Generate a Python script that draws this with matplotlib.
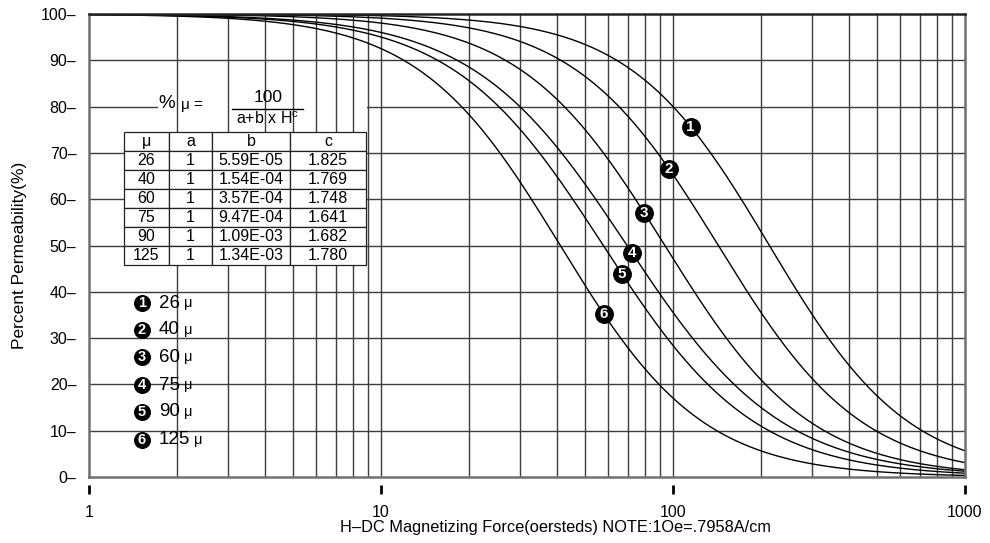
import numpy as np
import matplotlib
matplotlib.use("Agg")
import matplotlib.pyplot as plt
from matplotlib.transforms import blended_transform_factory
from matplotlib.patches import Rectangle

plt.rcParams['font.family'] = ['Liberation Sans', 'DejaVu Sans']
plt.rcParams['mathtext.fontset'] = 'custom'
plt.rcParams['mathtext.rm'] = 'Liberation Sans'

# Core material grades and the roll-off coefficients of %mu = 100 / (a + b * H^c)
perm = [26, 40, 60, 75, 90, 125]
coef_a = [1, 1, 1, 1, 1, 1]
coef_b = ["5.59E-05", "1.54E-04", "3.57E-04", "9.47E-04", "1.09E-03", "1.34E-03"]
coef_c = ["1.825", "1.769", "1.748", "1.641", "1.682", "1.780"]
marker_h = [115, 97, 79.6, 72.4, 66.9, 58]   # H at which each curve carries its number

y_ticks = [0, 10, 20, 30, 40, 50, 60, 70, 80, 90, 100]
x_ticks = [1, 10, 100, 1000]
x_ticklabels = ["1", "10", "100", "1000"]

W, H = 990, 543
fig = plt.figure(figsize=(W / 100, H / 100), dpi=100)
L, R, T, B = 89, 965, 14, 477
ax = fig.add_axes([L / W, (H - B) / H, (R - L) / W, (B - T) / H])
ax.set_xscale('log')
ax.set_xlim(1, 1000)
ax.set_ylim(0, 100)

def fx(px):
    return (px - L) / (R - L)

def fy(py):
    return (B - py) / (B - T)

# grid: horizontal every 10 %, vertical at every 1..9 x decade
grid_col = '#3c3c3c'
ax.hlines(y_ticks[1:-1], 1, 1000, colors=grid_col, lw=1.0, zorder=1)
ax.add_patch(Rectangle((fx(158), 0.793), fx(367) - fx(158), 0.014,
                       transform=ax.transAxes, facecolor='white',
                       edgecolor='none', zorder=1.5))
vx = [m * 10 ** d for d in range(3) for m in range(2, 10)] + [10, 100]
ax.vlines(vx, 0, 100, colors=grid_col, lw=1.0, zorder=2)

# permeability roll-off curves
Hs = np.logspace(0, 3, 600)
curves = []
for a, b, c in zip(coef_a, coef_b, coef_c):
    y = 100.0 / (a + float(b) * Hs ** float(c))
    ax.plot(Hs, y, color='black', lw=1.0, zorder=3)
    curves.append((a, float(b), float(c)))

for i, (h, (a, b, c)) in enumerate(zip(marker_h, curves)):
    yv = 100.0 / (a + b * h ** c)
    ax.scatter([h], [yv], s=185, color='black', zorder=5, linewidths=0)
    ax.text(h, yv, str(i + 1), color='white', fontsize=11, fontweight='bold',
            ha='center', va='center', zorder=6)

# axes styling
for side in ['left', 'bottom', 'right']:
    ax.spines[side].set_color('#707070')
    ax.spines[side].set_linewidth(1.8)
ax.spines['top'].set_color('#222222')
ax.spines['top'].set_linewidth(1.8)
for s in ax.spines.values():
    s.set_zorder(4)

ax.set_yticks(y_ticks)
ax.set_yticklabels([f"{v}\u2013" for v in y_ticks], fontsize=11.5)
ax.tick_params(axis='y', length=0, pad=9)
ax.set_xticks(x_ticks)
ax.set_xticklabels(x_ticklabels, fontsize=11.5)
ax.xaxis.set_minor_locator(matplotlib.ticker.NullLocator())
ax.tick_params(axis='x', length=0, pad=20)

# detached tick bars below the x axis
trans = blended_transform_factory(ax.transData, ax.transAxes)
ax.vlines(x_ticks, -0.036, -0.018, transform=trans, colors='black',
          lw=2.0, clip_on=False)

ax.set_xlabel("H\u2013DC Magnetizing Force(oersteds) NOTE:1Oe=.7958A/cm",
              fontsize=11.8, labelpad=0)
ax.xaxis.label.set_x(fx(555))
ax.set_ylabel("Percent Permeability(%)", fontsize=12.5, labelpad=10)
ax.yaxis.label.set_y(fy(255))

# formula
ax.text(fx(158), fy(104), "%", transform=ax.transAxes, fontsize=13.5,
        ha='left', va='center', zorder=7)
ax.text(fx(181), fy(105), "\u03bc =", transform=ax.transAxes, fontsize=11,
        ha='left', va='center', zorder=7)
ax.text(fx(268), fy(97), "100", transform=ax.transAxes, fontsize=12.5,
        ha='center', va='center', zorder=7)
ax.plot([fx(232), fx(303)], [fy(109), fy(109)], transform=ax.transAxes,
        color='black', lw=1.0, zorder=7)
ax.text(fx(268), fy(119), r"a+b x H$^{\mathrm{c}}$", transform=ax.transAxes,
        fontsize=11.5, ha='center', va='center', zorder=7)

# coefficient table
cell_text = [[str(p), str(a), b, c] for p, a, b, c in zip(perm, coef_a, coef_b, coef_c)]
tbl = ax.table(cellText=cell_text, colLabels=["\u03bc", "a", "b", "c"],
               cellLoc='center',
               colWidths=[45, 43, 78, 76],
               bbox=[fx(124), fy(265), fx(366) - fx(124), fy(132) - fy(265)],
               zorder=8)
tbl.auto_set_font_size(False)
tbl.set_fontsize(11.5)
for (r, cidx), cell in tbl.get_celld().items():
    cell.set_edgecolor('#222222')
    cell.set_linewidth(0.9)
    cell.set_facecolor('white')

# legend of grades
leg_rows = [303, 330, 357, 385, 412, 440]
for i, (p, py) in enumerate(zip(perm, leg_rows)):
    ax.scatter([fx(142)], [fy(py)], s=150, color='black', transform=ax.transAxes,
               zorder=7, linewidths=0, clip_on=False)
    ax.text(fx(142), fy(py), str(i + 1), color='white', fontsize=10.5,
            fontweight='bold', ha='center', va='center', transform=ax.transAxes,
            zorder=8)
    ax.text(fx(159), fy(py), f"{p}", fontsize=13.5, ha='left', va='center',
            transform=ax.transAxes, zorder=8)
    ax.annotate("\u03bc", xy=(fx(159), fy(py)), xycoords='axes fraction',
                xytext=(7.5 * len(str(p)) + 3, 0), textcoords='offset points',
                fontsize=10.5, ha='left', va='center', zorder=8)

fig.savefig("out.png", dpi=100)
